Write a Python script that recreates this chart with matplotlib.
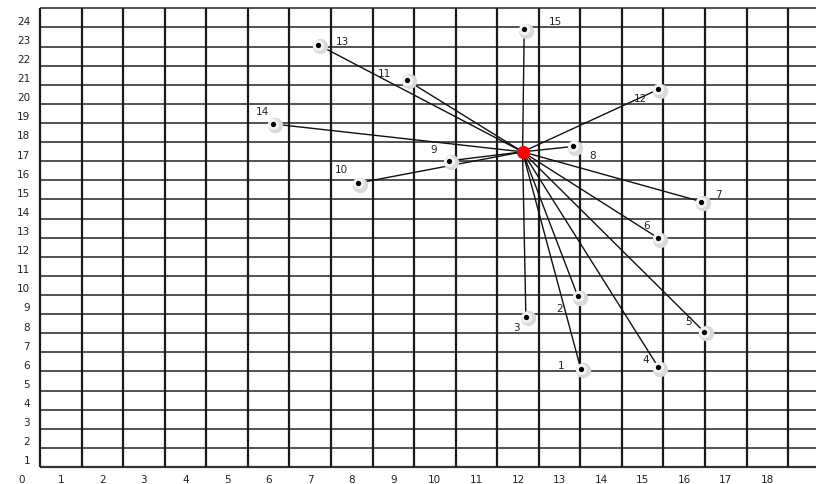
import matplotlib
matplotlib.use('Agg')
import matplotlib.pyplot as plt
from matplotlib.transforms import ScaledTranslation

# data
center_x = 12.11
center_y = 16.99

point_ids = ['1', '2', '3', '4', '5', '6', '7', '8', '9', '10', '11', '12', '13', '14', '15']
point_x = [13.51, 13.44, 12.19, 15.38, 16.48, 15.38, 16.40, 13.33, 10.35, 8.14, 9.32, 15.38, 7.20, 6.10, 12.15]
point_y = [5.64, 9.43, 8.36, 5.71, 7.57, 12.47, 14.39, 17.27, 16.52, 15.35, 20.75, 20.26, 22.58, 18.45, 23.40]

x_labels = [str(i) for i in range(19)]
y_labels = [str(i) for i in range(1, 25)]

# label offsets in pixels (layout only)
label_off = {'1': (-20, 4), '2': (-18, -12), '3': (-9, -10), '4': (-13, 8), '5': (-16, 11),
             '6': (-12, 13), '7': (18, 8), '8': (19, -9), '9': (-16, 12), '10': (-16, 14),
             '11': (-22, 7), '12': (-18, -9), '13': (24, 4), '14': (-10, 13), '15': (31, 8)}

fig = plt.figure(figsize=(8.16, 4.85), dpi=100)
ax = fig.add_axes([0, 0, 1, 1])
ax.set_xlim(-0.4625, 19.17)
ax.set_ylim(-0.389, 24.986)
ax.axis('off')

n_cols = len(x_labels)
n_rows = len(y_labels)

# grid
for k in range(n_rows + 1):
    y = k + 0.5
    lw = 1.6 if k == 0 else 1.2
    ax.plot([0.5, 19.17], [y, y], color='#333333', lw=lw, zorder=1, solid_capstyle='butt')
for k in range(n_cols):
    x = k + 0.5
    ax.plot([x, x], [0.5, n_rows + 0.5], color='#1a1a1a', lw=1.6, zorder=1, solid_capstyle='butt')

# tick labels
for i, lab in enumerate(x_labels):
    ax.text(i + 0.05 if i == 0 else i, -0.13, lab, ha='center', va='center',
            fontsize=7.5, color='#222222', family='DejaVu Sans')
for i, lab in enumerate(y_labels):
    ax.text(0.26, i + 1 - 0.15, lab, ha='right', va='center',
            fontsize=7.5, color='#222222', family='DejaVu Sans')

# spokes
for px, py in zip(point_x, point_y):
    ax.plot([center_x, px], [center_y, py], color='#111111', lw=1.0, zorder=2)

# markers with halo
shadow = ax.transData + ScaledTranslation(2 / 100, -1.5 / 100, fig.dpi_scale_trans)
ax.plot(point_x, point_y, 'o', ms=11, color='#d9d9d9', mec='none', transform=shadow, zorder=3)
ax.plot(point_x, point_y, 'o', ms=8, color='#f4f4f4', mec='none', zorder=4)
ax.plot(point_x, point_y, 'o', ms=3.8, color='black', mec='none', zorder=5)
ax.plot([center_x], [center_y], 'o', ms=9.5, color='#ff0000', mec='none', zorder=6)

for lab, px, py in zip(point_ids, point_x, point_y):
    dx, dy = label_off[lab]
    ax.annotate(lab, (px, py), xytext=(dx, dy), textcoords='offset pixels',
                ha='center', va='center', fontsize=7.5, color='#222222', zorder=7)

fig.savefig('out.png', dpi=100)
